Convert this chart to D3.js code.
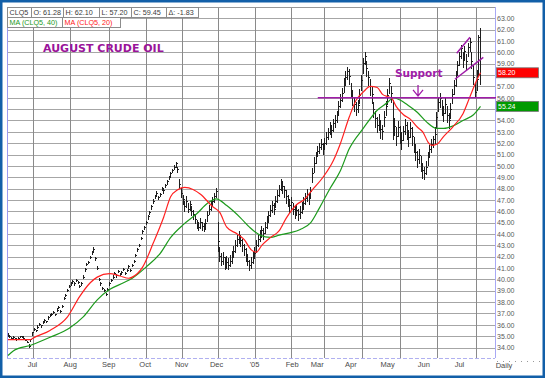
<!DOCTYPE html>
<html>
<head>
<meta charset="utf-8">
<script src="https://d3js.org/d3.v7.min.js"></script>
<style>
  body { margin: 0; background: #fff; }
  svg { display: block; font-family: "Liberation Sans", Arial, sans-serif; }
</style>
</head>
<body>
<svg id="chart" width="545" height="378"></svg>
<script>
// daily bars, index 0 = mid June 2004 ... 270 = last bar (Jul 2005)
const lows = [
  35.0, 34.9, 34.8, 34.8, 34.7, 34.6, 34.8, 34.9, 34.9, 34.8,
  34.6, 34.4, 34.0, 34.5, 35.1, 35.5, 35.4, 35.7, 35.9, 35.8,
  36.1, 36.3, 36.2, 36.5, 36.7, 36.8, 37.0, 36.8, 37.2, 37.4,
  37.1, 37.5, 38.2, 38.5, 38.9, 39.3, 39.5, 39.7, 39.5, 39.8,
  39.6, 39.3, 39.5, 40.1, 40.7, 41.2, 41.4, 41.8, 42.2, 42.4,
  41.7, 40.9, 39.9, 39.5, 39.1, 38.9, 38.6, 39.0, 39.5, 39.8,
  40.1, 40.4, 40.2, 40.6, 40.3, 40.5, 40.8, 40.4, 40.7, 41.0,
  40.7, 41.1, 41.5, 42.0, 42.5, 42.9, 43.5, 44.0, 44.4, 44.8,
  45.3, 45.7, 46.2, 46.7, 47.1, 47.4, 47.0, 47.3, 47.8, 47.6,
  48.1, 48.4, 48.8, 49.1, 49.4, 49.7, 49.9, 49.4, 48.0, 47.2,
  46.6, 46.0, 46.3, 45.9, 46.1, 45.6, 45.3, 44.9, 44.5, 44.3,
  44.5, 44.3, 44.2, 44.4, 45.1, 45.7, 46.1, 46.4, 46.8, 47.2,
  42.5, 41.6, 41.2, 41.3, 40.9, 41.0, 40.9, 41.1, 41.4, 41.9,
  42.4, 42.9, 43.2, 42.9, 42.5, 42.1, 41.6, 41.2, 40.8, 41.0,
  41.4, 41.8, 42.4, 42.9, 43.3, 43.7, 43.5, 44.0, 44.5, 45.0,
  45.5, 45.9, 45.7, 46.3, 46.8, 47.3, 47.8, 47.6, 47.2, 46.7,
  46.4, 45.9, 46.2, 45.7, 45.4, 45.6, 45.2, 45.4, 45.8, 46.2,
  46.6, 46.9, 46.6, 47.1, 48.5, 49.4, 50.2, 50.8, 51.1, 51.4,
  51.0, 51.4, 51.9, 52.3, 52.8, 52.5, 53.0, 53.4, 53.8, 54.5,
  55.1, 55.7, 56.5, 57.1, 57.6, 57.2, 56.0, 55.3, 54.8, 54.4,
  54.7, 55.5, 56.6, 58.1, 58.9, 57.9, 57.1, 56.2, 55.5, 54.3,
  53.4, 52.9, 53.1, 52.4, 52.3, 53.5, 54.4, 55.4, 56.4, 55.6,
  52.3, 52.7, 51.8, 52.6, 52.0, 51.4, 52.2, 52.8, 52.3, 51.7,
  52.5, 51.8, 51.2, 50.5, 49.9, 50.2, 49.5, 48.9, 48.8, 49.2,
  50.0, 50.7, 51.2, 51.6, 52.0, 53.4, 54.8, 55.1, 54.4, 53.9,
  54.6, 53.8, 53.3, 54.2, 55.5, 56.3, 57.0, 58.0, 58.8, 59.5,
  58.7, 59.3, 58.5, 59.6, 60.1, 58.6, 57.2, 56.0, 56.6, 58.0,
  57.2
];
const highs = [
  35.2, 35.1, 34.9, 35.0, 34.8, 34.8, 34.9, 35.0, 35.0, 34.9,
  34.7, 34.5, 34.3, 34.7, 35.3, 35.7, 35.5, 35.9, 36.1, 35.9,
  36.3, 36.5, 36.3, 36.7, 36.9, 37.0, 37.2, 36.9, 37.4, 37.6,
  37.3, 37.7, 38.4, 38.7, 39.1, 39.5, 39.7, 39.9, 39.7, 40.0,
  39.8, 39.5, 39.7, 40.3, 41.0, 41.4, 41.6, 42.0, 42.5, 42.8,
  41.9, 41.1, 40.1, 39.7, 39.3, 39.1, 38.8, 39.2, 39.7, 40.0,
  40.3, 40.6, 40.4, 40.8, 40.5, 40.7, 41.0, 40.6, 40.9, 41.2,
  40.9, 41.3, 41.7, 42.2, 42.7, 43.1, 43.7, 44.3, 44.7, 45.1,
  45.6, 46.0, 46.5, 47.0, 47.4, 47.7, 47.3, 47.6, 48.1, 47.9,
  48.4, 48.7, 49.1, 49.4, 49.7, 50.0, 50.3, 49.9, 48.8, 48.0,
  47.4, 46.9, 47.3, 46.7, 46.9, 46.4, 46.1, 45.7, 45.2, 45.0,
  45.4, 45.0, 44.9, 45.3, 46.0, 46.5, 46.9, 47.2, 47.6, 48.0,
  45.0, 42.8, 42.3, 42.4, 41.9, 42.0, 41.8, 42.1, 42.5, 42.9,
  43.4, 43.9, 44.2, 43.9, 43.5, 43.1, 42.7, 42.2, 41.7, 41.9,
  42.4, 42.8, 43.4, 43.9, 44.3, 44.7, 44.5, 45.0, 45.5, 46.0,
  46.5, 46.9, 46.7, 47.3, 47.8, 48.3, 48.8, 48.6, 48.2, 47.8,
  47.4, 47.0, 47.2, 46.7, 46.4, 46.6, 46.2, 46.4, 46.8, 47.2,
  47.6, 47.9, 47.6, 48.1, 49.8, 50.7, 51.2, 51.7, 52.0, 52.3,
  52.0, 52.4, 52.9, 53.3, 53.8, 53.6, 54.1, 54.4, 54.8, 55.7,
  56.3, 56.8, 57.7, 58.3, 58.7, 58.5, 57.3, 56.6, 56.0, 55.6,
  55.8, 56.7, 58.0, 59.5, 60.0, 59.2, 58.3, 57.6, 56.9, 55.6,
  54.8, 54.3, 54.5, 54.0, 53.6, 54.8, 55.7, 56.7, 57.7, 57.0,
  55.8, 54.2, 53.4, 53.9, 53.5, 52.9, 53.5, 54.1, 53.8, 53.0,
  53.8, 53.4, 52.5, 51.8, 51.3, 51.4, 50.8, 50.2, 49.9, 50.4,
  51.2, 51.8, 52.3, 52.6, 53.4, 54.7, 56.0, 56.4, 55.8, 55.1,
  55.9, 55.2, 54.6, 55.5, 56.7, 57.5, 58.3, 59.2, 60.0, 60.6,
  60.0, 60.5, 59.8, 60.8, 61.2, 60.0, 58.8, 57.3, 58.4, 61.5,
  62.1
];
const closes = [
  35.1, 35.0, 34.8, 34.9, 34.8, 34.7, 34.8, 35.0, 35.0, 34.8,
  34.6, 34.4, 34.1, 34.7, 35.3, 35.6, 35.5, 35.8, 36.0, 35.9,
  36.2, 36.4, 36.3, 36.6, 36.8, 36.9, 37.1, 36.9, 37.3, 37.5,
  37.2, 37.6, 38.3, 38.6, 39.0, 39.4, 39.6, 39.8, 39.6, 39.9,
  39.7, 39.4, 39.6, 40.2, 40.9, 41.3, 41.5, 41.9, 42.4, 42.6,
  41.8, 41.0, 40.0, 39.6, 39.2, 39.0, 38.7, 39.1, 39.6, 39.9,
  40.2, 40.5, 40.3, 40.7, 40.4, 40.6, 40.9, 40.5, 40.8, 41.1,
  40.8, 41.2, 41.6, 42.1, 42.6, 43.0, 43.6, 44.2, 44.6, 45.0,
  45.5, 45.9, 46.4, 46.9, 47.3, 47.6, 47.2, 47.5, 48.0, 47.8,
  48.3, 48.6, 49.0, 49.3, 49.6, 49.9, 50.2, 49.7, 48.4, 47.6,
  47.0, 46.4, 46.9, 46.2, 46.6, 46.0, 45.7, 45.3, 44.9, 44.6,
  45.0, 44.7, 44.5, 44.9, 45.6, 46.2, 46.6, 46.9, 47.3, 47.7,
  43.3, 42.0, 41.6, 41.9, 41.3, 41.5, 41.2, 41.6, 41.9, 42.5,
  43.0, 43.5, 43.8, 43.4, 43.0, 42.6, 42.1, 41.6, 41.2, 41.5,
  41.9, 42.3, 43.0, 43.5, 43.9, 44.3, 44.0, 44.6, 45.1, 45.6,
  46.1, 46.5, 46.2, 46.9, 47.4, 47.9, 48.4, 48.2, 47.8, 47.3,
  47.0, 46.5, 46.8, 46.2, 45.9, 46.1, 45.7, 45.9, 46.3, 46.7,
  47.1, 47.5, 47.2, 47.7, 49.3, 50.2, 50.8, 51.3, 51.6, 51.9,
  51.6, 52.0, 52.5, 52.9, 53.4, 53.1, 53.7, 54.0, 54.4, 55.2,
  55.8, 56.4, 57.2, 57.8, 58.3, 57.9, 56.6, 56.0, 55.4, 55.0,
  55.3, 56.2, 57.5, 59.0, 59.6, 58.6, 57.8, 57.0, 56.3, 55.0,
  54.2, 53.6, 53.9, 53.2, 53.0, 54.3, 55.2, 56.2, 57.3, 56.4,
  53.0, 53.5, 52.6, 53.4, 52.8, 52.2, 53.0, 53.6, 53.1, 52.5,
  53.3, 52.6, 51.9, 51.2, 50.6, 50.9, 50.2, 49.6, 49.3, 49.9,
  50.8, 51.4, 51.9, 52.3, 52.8, 54.3, 55.6, 55.9, 55.2, 54.6,
  55.4, 54.4, 54.0, 55.0, 56.3, 57.1, 57.8, 58.8, 59.6, 60.3,
  59.5, 60.1, 59.2, 60.4, 60.9, 59.2, 57.8, 56.5, 57.6, 61.28,
  59.45
];

// moving averages (bar index, price)
const ma20Idx = [0, 13, 14, 24, 34, 41, 47, 51, 58, 64, 69, 71, 77, 83, 89, 93, 97, 101, 106, 110,
  117, 121, 125, 131, 135, 139, 142, 145, 150, 155, 159, 165, 169, 174, 180, 186, 190, 195, 199, 203,
  207, 211, 214, 217, 219, 222, 226, 230, 234, 237, 240, 242, 245, 249, 254, 260, 264, 268, 270];
const ma20 = [34.7, 34.7, 34.8, 35.5, 36.7, 38.5, 39.7, 40.2, 40.5, 40.3, 40.1, 40.2, 41.1, 43.2, 45.5, 47.3, 47.9, 48.1, 47.9, 47.5,
  46.4, 45.9, 44.6, 44.0, 43.5, 42.6, 42.4, 43.0, 43.7, 44.3, 45.4, 46.6, 47.0, 47.9, 49.0, 50.5, 52.0, 54.3, 55.8, 56.5,
  57.0, 56.9, 56.3, 56.1, 56.0, 55.2, 54.5, 54.1, 53.4, 53.0, 52.1, 51.8, 51.9, 52.6, 53.4, 54.6, 56.1, 57.6, 58.2];
const ma40Idx = [0, 3, 13, 24, 35, 43, 51, 58, 66, 71, 79, 87, 93, 100, 108, 114, 119, 125, 133, 138,
  144, 150, 155, 161, 167, 173, 178, 184, 190, 195, 203, 211, 217, 220, 224, 228, 234, 239, 245, 249,
  254, 260, 266, 270];
const ma40 = [33.3, 33.7, 34.2, 34.9, 35.7, 36.7, 38.2, 39.1, 39.7, 40.1, 41.1, 42.3, 43.7, 44.8, 45.8, 46.7, 47.1, 46.5, 45.4, 44.6,
  43.9, 43.7, 43.9, 44.1, 44.4, 45.0, 46.3, 48.0, 49.6, 51.5, 53.3, 54.9, 55.6, 56.0, 55.8, 55.4, 54.7, 53.9, 53.3, 53.3,
  53.5, 54.0, 54.5, 55.24];

const priceTicks = [34, 35, 36, 37, 38, 39, 40, 41, 42, 43, 44, 45, 46, 47, 48,
  49, 50, 51, 52, 53, 54, 55, 56, 57, 58, 59, 60, 61, 62, 63];
const monthLabels = ["Jul", "Aug", "Sep", "Oct", "Nov", "Dec", "'05", "Feb", "Mar", "Apr", "May", "Jun", "Jul"];
const monthIdx = [13.7, 35.3, 57.3, 78.1, 98.9, 118.9, 140.6, 162.1, 176.4, 195.6, 216.6, 237.3, 257.7];
const gridIdx = [14.3, 35.4, 57.7, 78.9, 99.4, 120, 141.1, 161.7, 180.6, 202.3, 224, 245.1, 267.4];

const headerRow1 = ["CLQ5", "O: 61.28", "H: 62.10", "L: 57.20", "C: 59.45", "\u0394: -1.83"];
const headerRow2 = ["MA (CLQ5, 40)", "MA (CLQ5, 20)"];
const lastValues = [58.20, 55.24];

// annotations
const supportLevel = 56;
const supportSpan = [177, 279];
const trendLines = [[256.4, 59.92, 264, 61.33], [255.4, 57.63, 271.6, 59.56]];

const svg = d3.select('#chart');
const W = 545, H = 378;
const plotL = 7, plotR = 495, plotT = 7, plotB = 358;
const purple = '#a01ca8';

const x = d3.scaleLinear().domain([0, 270]).range([8, 480.5]);
const y = d3.scaleLinear().domain([34, 63]).range([347.5, 18.3]);

svg.append('rect').attr('width', W).attr('height', H).attr('fill', '#fff');

// grid
svg.append('g').selectAll('line').data(priceTicks).join('line')
  .attr('x1', plotL).attr('x2', plotR)
  .attr('y1', d => Math.round(y(d)) + 0.5).attr('y2', d => Math.round(y(d)) + 0.5)
  .attr('stroke', '#a6a6a6');
svg.append('g').selectAll('line').data(gridIdx).join('line')
  .attr('x1', d => Math.round(x(d)) + 0.5).attr('x2', d => Math.round(x(d)) + 0.5)
  .attr('y1', plotT).attr('y2', plotB)
  .attr('stroke', '#8a8a8a');

// plot borders
svg.append('line').attr('x1', plotL).attr('x2', plotR).attr('y1', plotT + 0.5).attr('y2', plotT + 0.5).attr('stroke', '#999');
svg.append('line').attr('x1', plotL + 0.5).attr('x2', plotL + 0.5).attr('y1', plotT).attr('y2', plotB).attr('stroke', '#9a9af0');
svg.append('line').attr('x1', plotR + 0.5).attr('x2', plotR + 0.5).attr('y1', plotT).attr('y2', plotB).attr('stroke', '#a8a8f4');
svg.append('line').attr('x1', plotL).attr('x2', plotR).attr('y1', plotB + 0.5).attr('y2', plotB + 0.5)
  .attr('stroke', '#b0b0f0').attr('stroke-dasharray', '4,2');

// bars
const bars = svg.append('g').attr('stroke', '#1e1e1e').attr('shape-rendering', 'crispEdges');
const idx = d3.range(lows.length);
bars.selectAll('line.hl').data(idx).join('line').attr('class', 'hl')
  .attr('x1', i => x(i)).attr('x2', i => x(i))
  .attr('y1', i => y(lows[i]) + 0.5).attr('y2', i => y(highs[i]) - 0.5);
bars.selectAll('line.cl').data(idx).join('line').attr('class', 'cl')
  .attr('x1', i => x(i)).attr('x2', i => x(i) + 1.6)
  .attr('y1', i => y(closes[i])).attr('y2', i => y(closes[i]));

// moving averages
const line = d3.line().x(d => x(d[0])).y(d => y(d[1])).curve(d3.curveMonotoneX);
svg.append('path').datum(d3.zip(ma40Idx, ma40))
  .attr('fill', 'none').attr('stroke', '#1c9a1c').attr('stroke-width', 1.2).attr('d', line);
svg.append('path').datum(d3.zip(ma20Idx, ma20))
  .attr('fill', 'none').attr('stroke', '#ff2020').attr('stroke-width', 1.2).attr('d', line);

// support line + arrow + text
svg.append('line')
  .attr('x1', x(supportSpan[0])).attr('x2', Math.min(x(supportSpan[1]), plotR + 1))
  .attr('y1', y(supportLevel)).attr('y2', y(supportLevel))
  .attr('stroke', purple).attr('stroke-width', 1.6);
const ax = x(234.3);
svg.append('path')
  .attr('d', `M${ax},${y(57.12)}L${ax},${y(56.15)}M${ax - 5},${y(56.7)}L${ax},${y(56.15)}L${ax + 5},${y(56.7)}`)
  .attr('fill', 'none').attr('stroke', purple).attr('stroke-width', 1.3);
svg.append('text').attr('x', x(221.1)).attr('y', y(57.83))
  .attr('font-family', 'DejaVu Sans, sans-serif').attr('font-weight', 'bold').attr('font-size', 10.5)
  .attr('fill', purple).text('Support');
svg.append('g').selectAll('line').data(trendLines).join('line')
  .attr('x1', d => x(d[0])).attr('y1', d => y(d[1]))
  .attr('x2', d => x(d[2])).attr('y2', d => y(d[3]))
  .attr('stroke', purple).attr('stroke-width', 1.5);

// title
svg.append('text').attr('x', 43).attr('y', 52)
  .attr('font-family', 'DejaVu Sans, sans-serif').attr('font-weight', 'bold').attr('font-size', 11)
  .attr('fill', '#9a149a').text('AUGUST CRUDE OIL');

// header cells
const row1x = [7, 31, 63, 99, 131, 166, 198];
const row2x = [7, 62, 120];
function cells(labels, xs, y0, colors) {
  const g = svg.append('g');
  labels.forEach((t, i) => {
    g.append('rect').attr('x', xs[i] + 0.5).attr('y', y0 + 0.5)
      .attr('width', xs[i + 1] - xs[i]).attr('height', 10)
      .attr('fill', '#fff').attr('stroke', '#8c8c8c');
    g.append('text').attr('x', xs[i] + 2.5).attr('y', y0 + 8)
      .attr('font-size', 7.2).attr('fill', colors[i]).text(t);
  });
}
cells(headerRow1, row1x, 7, headerRow1.map(() => '#3a3a3a'));
cells(headerRow2, row2x, 17, ['#1c9a1c', '#ff2020']);

// right axis (labels that sit under a last-value box are hidden, as in the source)
const visibleTicks = priceTicks.filter(t => lastValues.every(v => Math.abs(y(t) - y(v)) > 5));
const yAxis = svg.append('g').attr('transform', `translate(${plotR},0)`)
  .call(d3.axisRight(y).tickValues(visibleTicks).tickFormat(d3.format('.2f')).tickSize(0).tickPadding(2));
yAxis.select('.domain').remove();
yAxis.selectAll('text').attr('font-size', 7).attr('fill', '#5a5a5a')
  .attr('font-family', 'Liberation Sans, Arial, sans-serif');

// last value boxes
const boxColors = ['#ff0000', '#009a00'];
lastValues.forEach((v, i) => {
  svg.append('rect').attr('x', 496.5).attr('y', y(v) - 5).attr('width', 42).attr('height', 10)
    .attr('fill', boxColors[i]).attr('stroke', '#777').attr('stroke-width', 0.8);
  svg.append('text').attr('x', 498).attr('y', y(v) + 2.6)
    .attr('font-size', 7).attr('fill', '#fff').text(d3.format('.2f')(v));
});

// bottom axis
const xAxis = svg.append('g').attr('transform', `translate(0,${plotB})`)
  .call(d3.axisBottom(x).tickValues(monthIdx).tickFormat((d, i) => monthLabels[i]).tickSize(0).tickPadding(4));
xAxis.select('.domain').remove();
xAxis.selectAll('text').attr('font-size', 7.5).attr('fill', '#4a4a4a')
  .attr('font-family', 'Liberation Sans, Arial, sans-serif');
svg.append('text').attr('x', 504).attr('y', 368).attr('text-anchor', 'middle')
  .attr('font-size', 7.5).attr('fill', '#4a4a4a').text('Daily');
svg.append('line').attr('x1', 497).attr('x2', 540).attr('y1', 361.5).attr('y2', 361.5)
  .attr('stroke', '#999').attr('stroke-dasharray', '1,5');

// outer frame
svg.append('rect').attr('x', 1.25).attr('y', 1.25).attr('width', W - 2.5).attr('height', H - 2.5)
  .attr('fill', 'none').attr('stroke', '#125fa8').attr('stroke-width', 2.5);
</script>
</body>
</html>
